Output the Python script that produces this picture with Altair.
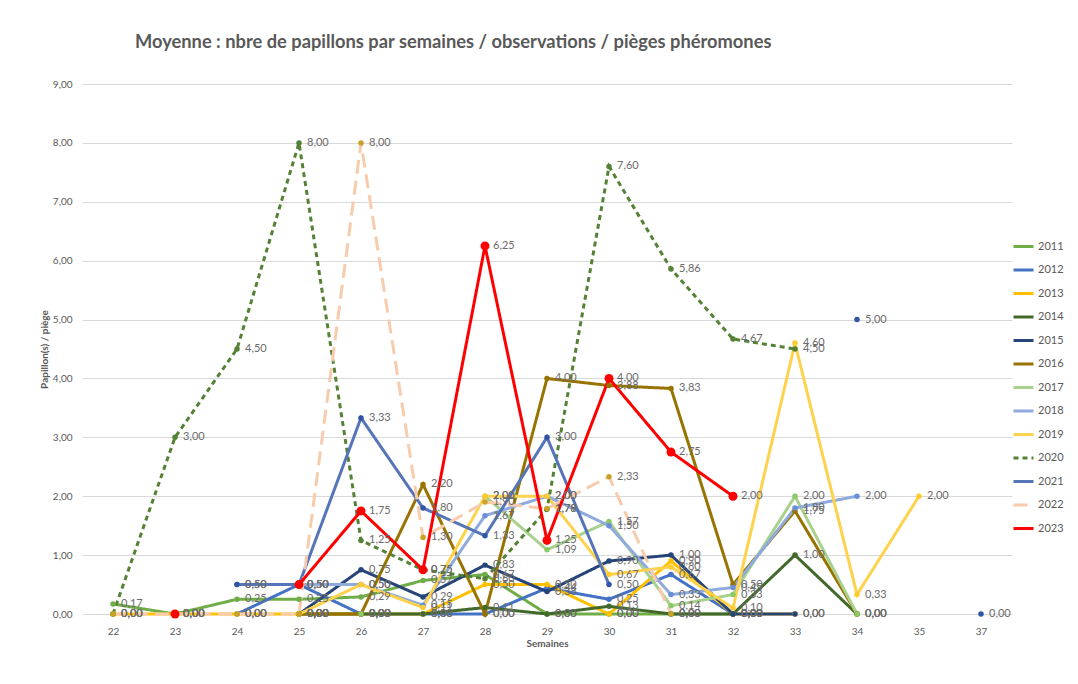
import altair as alt
import pandas as pd

N = None
weeks = ["22", "23", "24", "25", "26", "27", "28", "29", "30", "31", "32", "33", "34", "35", "37"]
years = ["2011", "2012", "2013", "2014", "2015", "2016", "2017", "2018", "2019", "2020", "2021", "2022", "2023"]

#            22    23    24    25    26    27    28    29    30    31    32    33    34    35    37
s2011 = [0.17, 0.00, 0.25, 0.25, 0.29, 0.57, 0.67, 0.00, 0.00, 0.00, 0.00, N, N, N, N]
s2012 = [N, N, 0.00, 0.50, 0.00, 0.00, 0.00, 0.44, 0.25, 0.67, 0.00, N, N, N, N]
s2013 = [0.00, 0.00, 0.00, 0.00, 0.00, 0.00, 0.50, 0.50, 0.00, 0.90, 0.00, 0.00, N, N, N]
s2014 = [N, N, N, 0.00, 0.00, 0.00, 0.11, 0.00, 0.13, 0.00, 0.00, 1.00, 0.00, N, N]
s2015 = [N, N, N, 0.00, 0.75, 0.29, 0.83, 0.38, 0.90, 1.00, 0.00, 0.00, N, N, N]
s2016 = [N, N, N, 0.00, 0.00, 2.20, 0.00, 4.00, 3.88, 3.83, 0.50, 1.75, 0.00, N, N]
s2017 = [N, N, N, N, 0.00, N, 2.00, 1.09, 1.57, 0.14, 0.33, 2.00, 0.00, N, N]
s2018 = [N, N, 0.50, 0.50, 0.50, 0.15, 1.67, 2.00, 1.50, 0.33, 0.45, 1.80, 2.00, N, N]
s2019 = [N, N, N, 0.00, 0.50, 0.11, 2.00, 2.00, 0.67, 0.80, 0.10, 4.60, 0.33, 2.00, N]
s2020 = [0.00, 3.00, 4.50, 8.00, 1.25, 0.75, 0.60, 1.78, 7.60, 5.86, 4.67, 4.50, N, N, N]
s2021 = [N, N, 0.50, 0.50, 3.33, 1.80, 1.33, 3.00, 0.50, N, N, N, 5.00, N, 0.00]
s2022 = [0.00, 0.00, 0.00, 0.00, 8.00, 1.30, 1.90, 1.79, 2.33, 0.00, N, N, N, N, N]
s2023 = [N, 0.00, N, 0.50, 1.75, 0.75, 6.25, 1.25, 4.00, 2.75, 2.00, N, N, N, N]

series = [s2011, s2012, s2013, s2014, s2015, s2016, s2017, s2018, s2019, s2020, s2021, s2022, s2023]

line_colors = ["#70AD47", "#4472C4", "#FFC000", "#43682B", "#264478", "#997300",
               "#A9D18E", "#8FAADC", "#FFD24D", "#548235", "#5575B8", "#F8CBAD", "#FF0000"]
marker_colors = ["#70AD47", "#4472C4", "#FFC000", "#43682B", "#264478", "#997300",
                 "#8CC863", "#6A8FD6", "#FFCB2F", "#548235", "#2F55A4", "#C9A227", "#FF0000"]
dashes = [[1, 0]] * 9 + [[5, 4], [1, 0], [14, 7], [1, 0]]
widths = [3, 3, 2, 3, 3, 3, 2, 1.5, 1.5, 2, 1.2, 3, 3.5]
msizes = [30, 30, 30, 30, 30, 30, 30, 30, 30, 30, 30, 30, 80]

rows = []
for i, (yr, vals) in enumerate(zip(years, series)):
    seg = 0
    for w, v in zip(weeks, vals):
        if v is None:
            seg += 1
            continue
        rows.append({
            "year": yr, "week": w, "v": v, "key": f"{yr}-{seg}",
            "mcolor": marker_colors[i], "msize": msizes[i],
            "lab": f"{v:.2f}".replace(".", ","),
        })
df = pd.DataFrame(rows)

x = alt.X("week:O", sort=weeks,
          scale=alt.Scale(domain=weeks, padding=0.5),
          axis=alt.Axis(labelAngle=0, title="Semaines", domain=False, ticks=False,
                        labelPadding=12, titlePadding=2, labelFontSize=10,
                        labelColor="#595959", titleFontSize=10, titleFontWeight="bold",
                        titleColor="#595959", grid=False))
y = alt.Y("v:Q", scale=alt.Scale(domain=[0, 9], nice=False),
          axis=alt.Axis(values=list(range(10)),
                        labelExpr="replace(format(datum.value,'.2f'),'.',',')",
                        title="Papillon(s) / piège", grid=True, gridColor="#D9D9D9",
                        domain=False, ticks=False, labelPadding=10, labelFontSize=10,
                        labelColor="#595959", titleFontSize=10, titleFontWeight="bold",
                        titleColor="#595959", titlePadding=3))

legend = alt.Legend(title=None, orient="none", legendX=930, legendY=151,
                    symbolType="stroke", symbolSize=400, labelFontSize=11,
                    labelOffset=3, labelColor="#595959", rowPadding=5.5)

lines = alt.Chart(df).mark_line().encode(
    x=x, y=y,
    detail="key:N",
    color=alt.Color("year:N", scale=alt.Scale(domain=years, range=line_colors), legend=legend),
    strokeDash=alt.StrokeDash("year:N", scale=alt.Scale(domain=years, range=dashes), legend=legend),
    strokeWidth=alt.StrokeWidth("year:N", scale=alt.Scale(domain=years, range=widths), legend=legend),
)

points = alt.Chart(df).mark_circle(opacity=1).encode(
    x=x, y=y,
    color=alt.Color("mcolor:N", scale=None),
    size=alt.Size("msize:Q", scale=None),
)

labels = alt.Chart(df).mark_text(align="left", baseline="middle", dx=8, fontSize=11,
                                 color="#6B6B6B").encode(
    x=x, y=y, text="lab:N")

chart = alt.layer(lines, points, labels).properties(
    width=930, height=530,
    autosize=alt.AutoSizeParams(type="none"),
    padding={"left": 74, "top": 76, "right": 58, "bottom": 60},
    title=alt.Title("Moyenne : nbre de papillons par semaines / observations / pièges phéromones",
                    anchor="start", frame="group", dx=53, offset=27, fontSize=18.3,
                    fontWeight="bold", color="#595959"),
).configure(font="Lato").configure_view(stroke=None)

chart.save("out.html", embed_options={"renderer": "svg", "actions": False})
